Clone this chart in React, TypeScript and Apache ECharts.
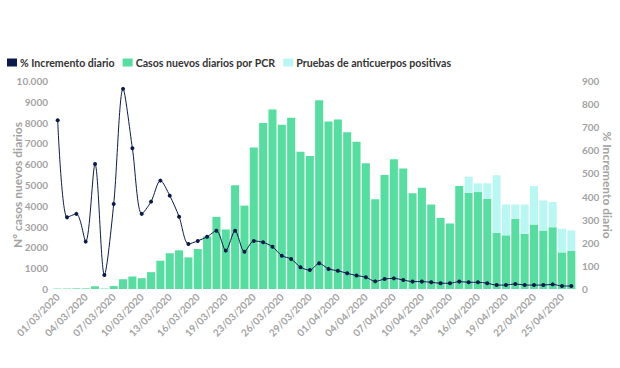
import React, { useEffect, useRef } from "react";
import * as echarts from "echarts";

const dates = [
  "01/03/2020", "02/03/2020", "03/03/2020", "04/03/2020", "05/03/2020", "06/03/2020", "07/03/2020",
  "08/03/2020", "09/03/2020", "10/03/2020", "11/03/2020", "12/03/2020", "13/03/2020", "14/03/2020",
  "15/03/2020", "16/03/2020", "17/03/2020", "18/03/2020", "19/03/2020", "20/03/2020", "21/03/2020",
  "23/03/2020", "24/03/2020", "25/03/2020", "26/03/2020", "27/03/2020", "28/03/2020", "29/03/2020",
  "30/03/2020", "31/03/2020", "01/04/2020", "02/04/2020", "03/04/2020", "04/04/2020", "05/04/2020",
  "06/04/2020", "07/04/2020", "08/04/2020", "09/04/2020", "10/04/2020", "11/04/2020", "12/04/2020",
  "13/04/2020", "14/04/2020", "15/04/2020", "16/04/2020", "17/04/2020", "18/04/2020", "19/04/2020",
  "20/04/2020", "21/04/2020", "22/04/2020", "23/04/2020", "24/04/2020", "25/04/2020", "26/04/2020",
];

const pcrCases = [
  20, 20, 30, 30, 130, 20, 140, 470, 600, 520, 810, 1360, 1720, 1860, 1520, 1920, 2530, 3470, 2860,
  4990, 4010, 6800, 7980, 8630, 7900, 8230, 6600, 6400, 9070, 8050, 8150, 7540, 7080, 6050, 4310,
  5480, 6240, 5790, 4600, 4870, 4060, 3420, 3150, 4950, 4630, 4660, 4340, 2700, 2580, 3370, 2650,
  3100, 2810, 2970, 1760, 1840,
];

const antibodyPositive = [
  0, 0, 0, 0, 0, 0, 0, 0, 0, 0, 0, 0, 0, 0, 0, 0, 0, 0, 0, 0, 0, 0, 0, 0, 0, 0, 0, 0, 0, 0, 0, 0,
  0, 0, 0, 0, 0, 0, 0, 0, 0, 0, 0, 0, 770, 420, 740, 2770, 1480, 690, 1410, 1850, 1450, 1210, 1130,
  980,
];

const dailyIncreasePct = [
  730, 310, 325, 205, 541, 61, 368, 866, 609, 325, 378, 469, 404, 313, 195, 208, 226, 252, 166, 252,
  161, 208, 202, 183, 144, 130, 94, 82, 111, 87, 79, 68, 58, 51, 33, 43, 46, 39, 32, 32, 29, 25, 25,
  32, 29, 29, 25, 17, 17, 22, 17, 17, 17, 20, 13, 13,
];

const FONT = "Lato";
const GRAY = "#a3a3a3";

export default function App() {
  const ref = useRef<HTMLDivElement>(null);
  useEffect(() => {
    if (!ref.current) return;
    const chart = echarts.init(ref.current, undefined, { renderer: "svg" });
    chart.setOption({
      animation: false,
      backgroundColor: "#ffffff",
      textStyle: { fontFamily: FONT },
      legend: {
        left: 2,
        top: 52,
        itemWidth: 10,
        itemHeight: 8,
        itemGap: 8,
        icon: "rect",
        textStyle: { fontFamily: FONT, fontSize: 10.6, fontWeight: "bold", color: "#333", padding: [0, 0, 0, -2] },
        data: ["% Incremento diario", "Casos nuevos diarios por PCR", "Pruebas de anticuerpos positivas"],
      },
      grid: { left: 53, right: 44, top: 81, bottom: 79, containLabel: false, outerBoundsMode: "none" },
      xAxis: {
        type: "category",
        data: dates,
        axisLine: { show: false },
        axisTick: { show: false },
        axisLabel: {
          interval: 2,
          rotate: 45,
          fontSize: 10,
          color: GRAY,
          fontFamily: FONT,
          fontWeight: "bold",
          margin: 6,
        },
      },
      yAxis: [
        {
          type: "value",
          min: 0,
          max: 10000,
          interval: 1000,
          splitLine: { show: false },
          axisLine: { show: false },
          axisTick: { show: false },
          axisLabel: {
            fontSize: 10,
            color: GRAY,
            fontWeight: "bold",
            fontFamily: FONT,
            margin: 5,
            formatter: (v: number) => (v === 10000 ? "10.000" : String(v)),
          },
          name: "Nº casos nuevos diarios",
          nameLocation: "middle",
          nameGap: 30,
          nameMoveOverlap: false,
          nameTextStyle: { fontSize: 12, fontWeight: "bold", color: GRAY, fontFamily: FONT },
        },
        {
          type: "value",
          min: 0,
          max: 900,
          interval: 100,
          position: "right",
          splitLine: { show: false },
          axisLine: { show: false },
          axisTick: { show: false },
          axisLabel: { fontSize: 10, color: GRAY, fontWeight: "bold", fontFamily: FONT, margin: 6 },
          name: "% Incremento diario",
          nameLocation: "middle",
          nameRotate: -90,
          nameGap: 25,
          nameMoveOverlap: false,
          nameTextStyle: { fontSize: 12, fontWeight: "bold", color: GRAY, fontFamily: FONT },
        },
      ],
      series: [
        {
          name: "Casos nuevos diarios por PCR",
          type: "bar",
          stack: "casos",
          data: pcrCases,
          barCategoryGap: "14%",
          itemStyle: { color: "#55de9f" },
        },
        {
          name: "Pruebas de anticuerpos positivas",
          type: "bar",
          stack: "casos",
          data: antibodyPositive,
          itemStyle: { color: "#b9f7f3" },
        },
        {
          name: "% Incremento diario",
          type: "line",
          yAxisIndex: 1,
          data: dailyIncreasePct,
          smooth: 0.3,
          symbol: "circle",
          symbolSize: 4,
          lineStyle: { color: "#0c1a4b", width: 1 },
          itemStyle: { color: "#0c1a4b" },
          z: 5,
        },
      ],
    });
    return () => chart.dispose();
  }, []);
  return <div ref={ref} style={{ width: 620, height: 368, position: "absolute", left: 0, top: 0 }} />;
}
